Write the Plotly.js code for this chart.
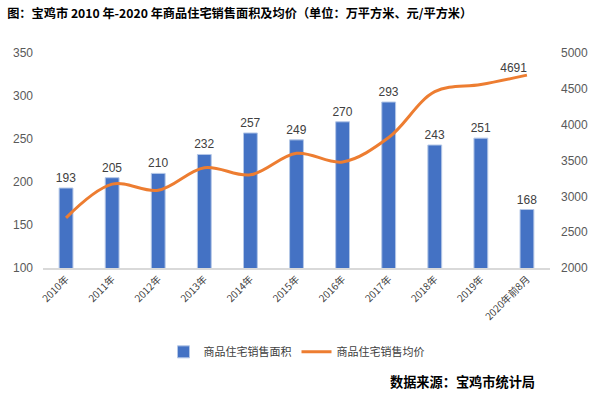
<!DOCTYPE html>
<html>
<head>
<meta charset="utf-8">
<script src="https://cdn.plot.ly/plotly-3.0.1.min.js"></script>
<style>
html,body{margin:0;padding:0;background:#fff;}
#chart{width:600px;height:399px;}
</style>
</head>
<body>
<div id="chart"></div>
<script>
const categories = ['2010年','2011年','2012年','2013年','2014年','2015年','2016年','2017年','2018年','2019年','2020年前8月'];
const areaValues = [193, 205, 210, 232, 257, 249, 270, 293, 243, 251, 168];
const priceValues = [2700, 3170, 3085, 3400, 3300, 3600, 3480, 3820, 4460, 4560, 4691];
const priceLabels = ['', '', '', '', '', '', '', '', '', '', '4691'];
const leftTicks = [100, 150, 200, 250, 300, 350];
const rightTicks = [2000, 2500, 3000, 3500, 4000, 4500, 5000];

const FONT = '"Noto Sans CJK SC", "Noto Sans", sans-serif';

const traces = [
  {
    type: 'bar',
    name: '商品住宅销售面积',
    x: categories,
    y: areaValues,
    yaxis: 'y',
    width: 0.3,
    marker: {color: '#4472C4', line: {color: '#B4C7E7', width: 1}},
    text: areaValues.map(String),
    textposition: 'outside',
    constraintext: 'none',
    cliponaxis: false,
    textfont: {family: 'Arial, "Liberation Sans", sans-serif', size: 12, color: '#404040'},
    hoverinfo: 'skip'
  },
  {
    type: 'scatter',
    mode: 'lines+text',
    name: '商品住宅销售均价',
    x: categories,
    y: priceValues,
    yaxis: 'y2',
    line: {color: '#ED7D31', width: 3, shape: 'spline', smoothing: 1},
    text: priceLabels,
    textposition: 'top left',
    cliponaxis: false,
    textfont: {family: 'Arial, "Liberation Sans", sans-serif', size: 12, color: '#404040'},
    hoverinfo: 'skip'
  }
];

const layout = {
  width: 600,
  height: 399,
  margin: {l: 43, r: 50, t: 53, b: 131},
  paper_bgcolor: '#ffffff',
  plot_bgcolor: '#ffffff',
  showlegend: true,
  title: {
    text: '<b>图：宝鸡市 2010 年-2020 年商品住宅销售面积及均价（单位：万平方米、元/平方米）</b>',
    font: {family: FONT, size: 12.2, color: '#000000'},
    x: 0.012, xanchor: 'left', xref: 'container',
    y: 0.965, yanchor: 'middle'
  },
  xaxis: {
    type: 'category',
    tickangle: -45,
    tickfont: {family: FONT, size: 10, color: '#404040'},
    showgrid: false,
    showline: true,
    linecolor: '#D9D9D9',
    linewidth: 1.5,
    ticks: '',
    range: [-0.5, 10.5],
    fixedrange: true
  },
  yaxis: {
    range: [100, 350],
    tickvals: leftTicks,
    ticktext: leftTicks.map(String),
    tickfont: {family: 'Arial, "Liberation Sans", sans-serif', size: 12, color: '#595959'},
    showgrid: false,
    zeroline: false,
    showline: false,
    ticks: '',
    ticklabelstandoff: 9
  },
  yaxis2: {
    overlaying: 'y',
    side: 'right',
    range: [2000, 5000],
    tickvals: rightTicks,
    ticktext: rightTicks.map(String),
    tickfont: {family: 'Arial, "Liberation Sans", sans-serif', size: 12, color: '#595959'},
    showgrid: false,
    zeroline: false,
    showline: false,
    ticks: '',
    ticklabelstandoff: 10
  },
  legend: {
    orientation: 'h',
    x: 0.5, xanchor: 'center',
    y: -0.39, yanchor: 'middle',
    font: {family: FONT, size: 11, color: '#404040'},
    itemwidth: 30,
    traceorder: 'normal',
    bgcolor: 'rgba(0,0,0,0)'
  },
  annotations: [
    {
      text: '<b>数据来源：宝鸡市统计局</b>',
      xref: 'paper', yref: 'paper',
      x: 0.975, xanchor: 'right',
      y: -0.53, yanchor: 'middle',
      showarrow: false,
      font: {family: FONT, size: 13.2, color: '#000000'}
    }
  ]
};

Plotly.newPlot('chart', traces, layout, {displayModeBar: false, staticPlot: true});
</script>
</body>
</html>
